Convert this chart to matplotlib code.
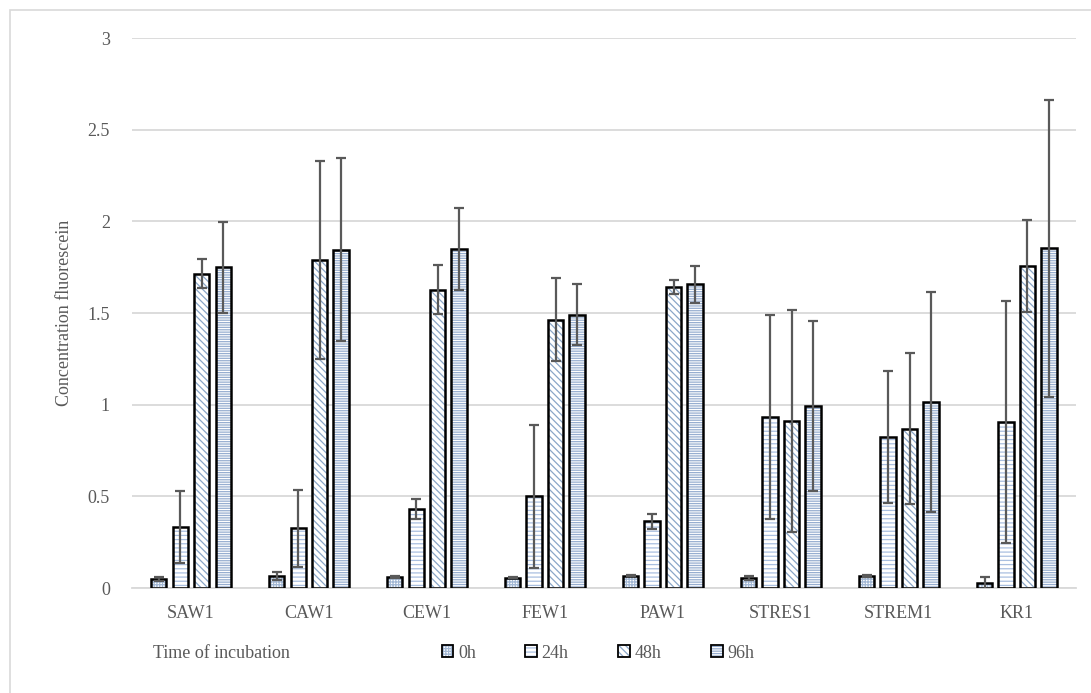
import matplotlib
matplotlib.use('Agg')
import matplotlib.pyplot as plt
from matplotlib.patches import Patch, Rectangle
from matplotlib.legend_handler import HandlerTuple
import numpy as np

# strains and incubation times
cats = ['SAW1', 'CAW1', 'CEW1', 'FEW1', 'PAW1', 'STRES1', 'STREM1', 'KR1']
times = ['0h', '24h', '48h', '96h']

h0 = [0.050, 0.063, 0.060, 0.055, 0.068, 0.053, 0.065, 0.025]
h0_err = [0.010, 0.022, 0.004, 0.003, 0.005, 0.012, 0.004, 0.035]
h24 = [0.333, 0.327, 0.430, 0.500, 0.364, 0.931, 0.824, 0.906]
h24_err = [0.195, 0.210, 0.055, 0.390, 0.042, 0.557, 0.360, 0.660]
h48 = [1.715, 1.791, 1.628, 1.464, 1.643, 0.911, 0.870, 1.757]
h48_err = [0.080, 0.540, 0.133, 0.225, 0.040, 0.605, 0.410, 0.250]
h96 = [1.749, 1.846, 1.850, 1.491, 1.656, 0.993, 1.017, 1.853]
h96_err = [0.250, 0.500, 0.224, 0.165, 0.100, 0.465, 0.600, 0.810]

series = [h0, h24, h48, h96]
errors = [h0_err, h24_err, h48_err, h96_err]
hatches = ['++++++', '----', '\\\\\\\\\\', '-------']
hcols = ['#A3B8D4', '#A9BFE0', '#8AA6C8', '#97AED0']

plt.rcParams['font.family'] = ['Liberation Serif', 'DejaVu Serif']
plt.rcParams['hatch.linewidth'] = 0.9
txt = '#595959'

fig = plt.figure(figsize=(10.91, 6.93), dpi=100)
ax = fig.add_axes([0.121, 0.1515, 0.865, 0.7935])

x = np.arange(len(cats))
step = 0.182
w = 0.13
for j in range(4):
    pos = x + (j - 1.5) * step
    # hatch layer, then black outline on top
    ax.bar(pos, series[j], w, color='white', edgecolor=hcols[j],
           hatch=hatches[j], linewidth=0, zorder=2)
    ax.bar(pos, series[j], w, color='none', edgecolor='black',
           linewidth=1.8, zorder=3)
    ax.errorbar(pos, series[j], yerr=errors[j], fmt='none', ecolor=txt,
                elinewidth=1.6, capsize=3.8, capthick=1.6, zorder=4)

ax.set_xlim(-0.5, len(cats) - 0.5)
ax.set_ylim(0, 3)
ax.set_yticks([0, 0.5, 1, 1.5, 2, 2.5, 3])
ax.set_yticklabels(['0', '0.5', '1', '1.5', '2', '2.5', '3'])
ax.set_xticks(x)
ax.set_xticklabels(cats)
ax.tick_params(length=0, labelsize=13, colors=txt)
ax.tick_params(axis='y', pad=16)
ax.tick_params(axis='x', pad=12)
ax.yaxis.grid(True, color='#D9D9D9', linewidth=1.3)
ax.set_axisbelow(True)
for s in ['top', 'right', 'left']:
    ax.spines[s].set_visible(False)
ax.spines['bottom'].set_color('#D9D9D9')
ax.spines['bottom'].set_linewidth(1.3)
ax.set_ylabel('Concentration fluorescein', fontsize=13, color=txt, labelpad=10)

fig.text(153 / 1091, 1 - 653 / 693, 'Time of incubation', fontsize=13,
         color=txt, va='center', ha='left')

handles = []
for j in range(4):
    fill = Patch(facecolor='white', edgecolor=hcols[j], linewidth=0,
                 hatch=hatches[j])
    edge = Patch(facecolor='none', edgecolor='black', linewidth=1.3)
    handles.append((fill, edge))
leg = fig.legend(handles, times, loc='center', ncol=4,
                 handler_map={tuple: HandlerTuple(ndivide=1, pad=0)},
                 bbox_to_anchor=(598 / 1091, 1 - 653 / 693), frameon=False,
                 fontsize=13, handlelength=0.65, handleheight=0.65,
                 handletextpad=0.25, columnspacing=2.75, borderpad=0)
for t in leg.get_texts():
    t.set_color(txt)

# chart area border
fig.patches.append(Rectangle((10 / 1091, -0.1), 1.2, 1.1 - 10 / 693,
                             transform=fig.transFigure, fill=False,
                             edgecolor='#D9D9D9', linewidth=1.2))

fig.savefig('out.png', dpi=100)
